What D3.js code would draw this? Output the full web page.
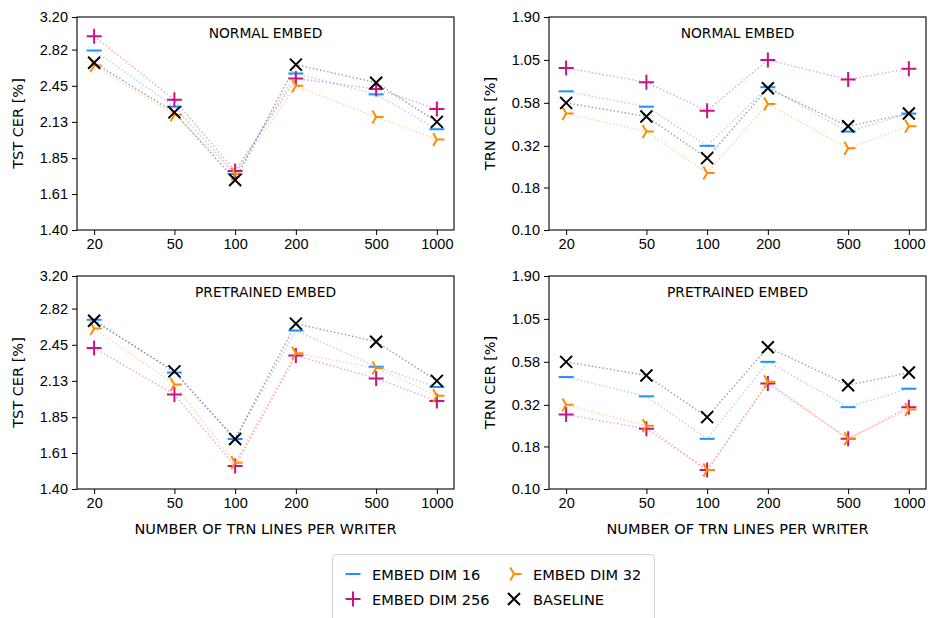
<!DOCTYPE html>
<html>
<head>
<meta charset="utf-8">
<script src="https://cdn.jsdelivr.net/npm/d3@7"></script>
<style>
  body { margin: 0; background: #fff; }
  svg { font-family: "DejaVu Sans", sans-serif; }
  .tick text { font-size: 14.5px; fill: #000; }
  .tick line { stroke: #000; }
</style>
</head>
<body>
<svg width="930" height="618"></svg>
<script>
// x categories (lines per writer) and series
var writerLines = [20, 50, 100, 200, 500, 1000]
var seriesNames = ["EMBED DIM 16", "EMBED DIM 256", "EMBED DIM 32", "BASELINE"]
var tstTicks = [1.40, 1.61, 1.85, 2.13, 2.45, 2.82, 3.20]
var trnTicks = [0.10, 0.18, 0.32, 0.58, 1.05, 1.90]

// NORMAL EMBED, test CER
var normalTstDim16 = [2.81, 2.26, 1.74, 2.57, 2.37, 2.07]
var normalTstDim256 = [2.97, 2.32, 1.76, 2.52, 2.42, 2.24]
var normalTstDim32 = [2.65, 2.19, 1.74, 2.45, 2.17, 1.99]
var normalTstBase = [2.68, 2.21, 1.70, 2.66, 2.48, 2.13]

// NORMAL EMBED, train CER
var normalTrnDim16 = [0.68, 0.55, 0.32, 0.72, 0.39, 0.50]
var normalTrnDim256 = [0.94, 0.77, 0.52, 1.05, 0.80, 0.93]
var normalTrnDim32 = [0.50, 0.39, 0.22, 0.57, 0.31, 0.42]
var normalTrnBase = [0.58, 0.48, 0.27, 0.71, 0.42, 0.50]

// PRETRAINED EMBED, test CER
var pretrTstDim16 = [2.70, 2.20, 1.70, 2.59, 2.25, 2.08]
var pretrTstDim256 = [2.42, 2.02, 1.53, 2.35, 2.15, 1.97]
var pretrTstDim32 = [2.61, 2.10, 1.55, 2.37, 2.24, 2.01]
var pretrTstBase = [2.69, 2.21, 1.70, 2.66, 2.48, 2.13]

// PRETRAINED EMBED, train CER
var pretrTrnDim16 = [0.47, 0.36, 0.20, 0.58, 0.31, 0.40]
var pretrTrnDim256 = [0.28, 0.23, 0.13, 0.43, 0.20, 0.31]
var pretrTrnDim32 = [0.32, 0.24, 0.13, 0.44, 0.20, 0.30]
var pretrTrnBase = [0.58, 0.48, 0.27, 0.71, 0.42, 0.50]

var colors = ["#1E90FF", "#C71585", "#FF8C00", "#000000"]
var markers = ["hline", "plus", "triRight", "cross"]

function markerPath(kind) {
	if (kind == "hline") return "M-7.5,0H7.5"
	if (kind == "plus") return "M-7.5,0H7.5M0,-7.5V7.5"
	if (kind == "triRight") return "M0,0L7.5,0M0,0L-3.75,-6.5M0,0L-3.75,6.5"
	return "M-6,-6L6,6M-6,6L6,-6"
}

var svg = d3.select("svg")

var panels = [
	{ left: 77, top: 17, title: "NORMAL EMBED", ylab: "TST CER [%]", domain: [1.4, 3.2], ticks: tstTicks,
		series: [normalTstDim16, normalTstDim256, normalTstDim32, normalTstBase], xlab: false },
	{ left: 549, top: 17, title: "NORMAL EMBED", ylab: "TRN CER [%]", domain: [0.1, 1.9], ticks: trnTicks,
		series: [normalTrnDim16, normalTrnDim256, normalTrnDim32, normalTrnBase], xlab: false },
	{ left: 77, top: 276, title: "PRETRAINED EMBED", ylab: "TST CER [%]", domain: [1.4, 3.2], ticks: tstTicks,
		series: [pretrTstDim16, pretrTstDim256, pretrTstDim32, pretrTstBase], xlab: true },
	{ left: 549, top: 276, title: "PRETRAINED EMBED", ylab: "TRN CER [%]", domain: [0.1, 1.9], ticks: trnTicks,
		series: [pretrTrnDim16, pretrTrnDim256, pretrTrnDim32, pretrTrnBase], xlab: true }
]

var width = 377, height = 213

// log x with matplotlib-like 5% margins
var lx0 = Math.log10(20), lx1 = Math.log10(1000), pad = (lx1 - lx0) * 0.05

panels.forEach(function(p) {
	var g = svg.append("g").attr("transform", "translate(" + p.left + "," + p.top + ")")

	var x = d3.scaleLog().domain([Math.pow(10, lx0 - pad), Math.pow(10, lx1 + pad)]).range([0, width])
	var y = d3.scaleLog().domain(p.domain).range([height, 0])

	var xAxis = g.append("g")
		.attr("transform", "translate(0," + height + ")")
		.call(d3.axisBottom(x).tickValues(writerLines).tickFormat(d3.format("d")).tickSize(5).tickPadding(4))
	xAxis.select(".domain").remove()

	var yAxis = g.append("g")
		.call(d3.axisLeft(y).tickValues(p.ticks).tickFormat(d3.format(".2f")).tickSize(5).tickPadding(4))
	yAxis.select(".domain").remove()
	svg.selectAll(".tick text").attr("font-family", null)

	var line = d3.line()
		.x(function(d, i) { return x(writerLines[i]) })
		.y(function(d) { return y(d) })

	p.series.forEach(function(vals, s) {
		g.append("path")
			.datum(vals)
			.attr("d", line)
			.attr("fill", "none")
			.attr("stroke", colors[s])
			.attr("stroke-width", 1.4)
			.attr("stroke-opacity", 0.4)
			.attr("stroke-dasharray", "1.4,2.3")
	})

	p.series.forEach(function(vals, s) {
		g.selectAll(".m" + s)
			.data(vals)
			.enter().append("path")
				.attr("class", "m" + s)
				.attr("transform", function(d, i) { return "translate(" + x(writerLines[i]) + "," + y(d) + ")" })
				.attr("d", markerPath(markers[s]))
				.attr("fill", "none")
				.attr("stroke", colors[s])
				.attr("stroke-width", 2)
	})

	// frame
	g.append("rect")
		.attr("width", width).attr("height", height)
		.attr("fill", "none").attr("stroke", "#000").attr("stroke-width", 1.1)

	g.append("text")
		.attr("x", width / 2).attr("y", 16)
		.attr("text-anchor", "middle").attr("dominant-baseline", "central")
		.attr("font-size", 13.8)
		.text(p.title)

	g.append("text")
		.attr("transform", "translate(" + (-59) + "," + (height / 2) + ") rotate(-90)")
		.attr("text-anchor", "middle").attr("dominant-baseline", "central")
		.attr("font-size", 14.5)
		.text(p.ylab)

	if (p.xlab) {
		g.append("text")
			.attr("x", width / 2).attr("y", height + 40)
			.attr("text-anchor", "middle").attr("dominant-baseline", "central")
			.attr("font-size", 14.5)
			.text("NUMBER OF TRN LINES PER WRITER")
	}
})

// legend, two columns filled column-first
var legend = svg.append("g")
legend.append("rect")
	.attr("x", 332.5).attr("y", 554.5).attr("width", 322).attr("height", 75).attr("rx", 4)
	.attr("fill", "#fff").attr("stroke", "#d0d0d0")

var legPos = [[353, 574], [353, 599], [514, 574], [514, 599]]
seriesNames.forEach(function(name, s) {
	legend.append("path")
		.attr("transform", "translate(" + legPos[s][0] + "," + legPos[s][1] + ")")
		.attr("d", markerPath(markers[s]))
		.attr("fill", "none").attr("stroke", colors[s]).attr("stroke-width", 2)
	legend.append("text")
		.attr("x", legPos[s][0] + 19).attr("y", legPos[s][1])
		.attr("dominant-baseline", "central").attr("font-size", 14.6)
		.text(name)
})
</script>
</body>
</html>
